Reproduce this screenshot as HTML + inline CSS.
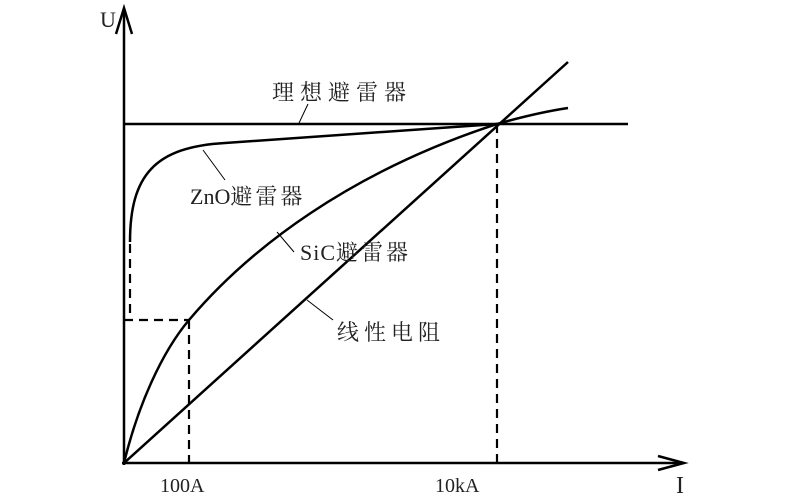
<!DOCTYPE html>
<html><head><meta charset="utf-8"><style>body{margin:0;background:#fff}svg{display:block}</style></head><body>
<svg width="800" height="500" viewBox="0 0 800 500" font-family="'Liberation Serif','Noto Serif CJK SC',serif" fill="none">
<g stroke="#000" stroke-width="2.5">
<line x1="124" y1="465" x2="124" y2="12"/>
<polyline points="116,34 124,8 132,34"/>
<line x1="122" y1="463" x2="683" y2="463"/>
<polyline points="658,456 684,463 658,470"/>
<line x1="124" y1="124" x2="628" y2="124"/>
<line x1="124" y1="463" x2="568" y2="62"/>
<path d="M124,463 C138,405 162,352 189,320 C250,248 350,172 497,124 C525,116 548,111 568,108"/>
<path d="M130,242 C130,175 155,147 225,143 L497,124"/>
</g>
<g stroke="#000" stroke-width="2.2" stroke-dasharray="9,6">
<line x1="497" y1="124" x2="497" y2="463"/>
<line x1="189" y1="320" x2="189" y2="463"/>
<line x1="124" y1="320" x2="189" y2="320"/>
<line x1="130" y1="244" x2="130" y2="320"/>
</g>
<g stroke="#000" stroke-width="1">
<line x1="299" y1="123" x2="308" y2="104"/>
<line x1="203" y1="150" x2="225" y2="180"/>
<line x1="277" y1="232" x2="294" y2="252"/>
<line x1="307" y1="300" x2="333" y2="320"/>
</g>
<g fill="#222" font-size="22">
<text x="100" y="27">U</text>
<text x="676" y="493" font-size="24">I</text>
<text x="160" y="492" font-size="20">100A</text>
<text x="435" y="492" font-size="20">10kA</text>
<text x="272" y="100" letter-spacing="6">理想避雷器</text>
<text x="190" y="204">ZnO<tspan letter-spacing="3">避雷器</tspan></text>
<text x="300" y="260" letter-spacing="1">SiC<tspan letter-spacing="3">避雷器</tspan></text>
<text x="337" y="340" letter-spacing="5">线性电阻</text>
</g>
</svg>
</body></html>
